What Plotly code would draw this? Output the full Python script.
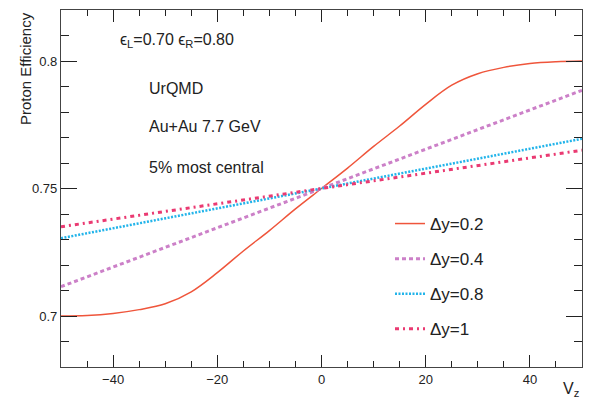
import plotly.graph_objects as go

vz = [-50, -45, -40, -35, -30, -25, -20, -15, -10, -5, 0, 5, 10, 15, 20, 25, 30, 35, 40, 45, 50]
eff_dy02 = [0.7000, 0.7002, 0.7010, 0.7025, 0.7048, 0.7095, 0.7170, 0.7255, 0.7335, 0.7420, 0.7500,
            0.7580, 0.7665, 0.7745, 0.7830, 0.7905, 0.7950, 0.7975, 0.7990, 0.7997, 0.8000]
vz_lin = [-50, -25, 0, 25, 50]
eff_dy04 = [0.7115, 0.7308, 0.7500, 0.7693, 0.7885]
eff_dy08 = [0.7305, 0.7403, 0.7500, 0.7598, 0.7695]
eff_dy1 = [0.7350, 0.7425, 0.7500, 0.7575, 0.7650]

labels = ["Δy=0.2", "Δy=0.4", "Δy=0.8", "Δy=1"]
FONT = "Liberation Sans, Arial, sans-serif"

fig = go.Figure()
fig.add_trace(go.Scatter(x=vz, y=eff_dy02, mode="lines", name=labels[0], legendgroup="a",
                         line=dict(color="#EF553B", width=1.5), line_shape="spline"))
fig.add_trace(go.Scatter(x=vz_lin, y=eff_dy04, mode="lines", name=labels[1], legendgroup="b",
                         line=dict(color="#cc80c8", width=3, dash="4px,3px")))
fig.add_trace(go.Scatter(x=vz_lin, y=eff_dy08, mode="lines", name=labels[2], legendgroup="c",
                         line=dict(color="#22b4ea", width=2.5, dash="2px,1.5px")))
fig.add_trace(go.Scatter(x=vz_lin, y=eff_dy1, mode="lines", name=labels[3], legendgroup="d",
                         line=dict(color="#ea3a72", width=3, dash="4px,4px,2px,4px")))

axis_common = dict(showgrid=False, zeroline=False, showline=True, linecolor="#444", linewidth=1.2,
                   ticks="inside", tickcolor="#222", tickwidth=1, mirror="allticks",
                   tickfont=dict(family=FONT, size=13, color="#222"))
fig.update_xaxes(range=[-50, 50], tick0=0, dtick=20, ticklen=12,
                 minor=dict(dtick=5, ticklen=6, ticks="inside", tickcolor="#222"), **axis_common)
fig.update_yaxes(range=[0.68, 0.82], tickvals=[0.7, 0.75, 0.8], ticktext=["0.7", "0.75", "0.8"],
                 ticklen=16, minor=dict(dtick=0.01, tick0=0.7, ticklen=8, ticks="inside", tickcolor="#222"),
                 **axis_common)

txt = dict(family=FONT, size=16, color="#222")
ann = [
    dict(x=118, y=40, text="ϵ<sub>L</sub>=0.70 ϵ<sub>R</sub>=0.80", xanchor="left"),
    dict(x=147, y=88, text="UrQMD", xanchor="left"),
    dict(x=147, y=127, text="Au+Au 7.7 GeV", xanchor="left"),
    dict(x=147, y=167, text="5% most central", xanchor="left"),
]
for a in ann:
    fig.add_annotation(x=(a["x"] - 61) / 521, y=1 - (a["y"] - 10) / 357, xref="paper", yref="paper",
                       text=a["text"], xanchor=a["xanchor"], yanchor="middle", showarrow=False, font=txt)

fig.add_annotation(x=-0.068, y=1.0, xref="paper", yref="paper", text="Proton Efficiency", textangle=-90,
                   xanchor="center", yanchor="top", showarrow=False, font=dict(family=FONT, size=15, color="#222"))
fig.add_annotation(x=1.0, y=-(401 - 367) / 357, xref="paper", yref="paper", text="V<sub>z</sub>",
                   xanchor="right", yanchor="bottom", showarrow=False, font=dict(family=FONT, size=16, color="#222"))

fig.update_layout(
    width=595, height=401, margin=dict(l=61, r=13, t=10, b=34),
    paper_bgcolor="white", plot_bgcolor="white",
    showlegend=True,
    legend=dict(x=(390 - 61) / 521, y=1 - (206 - 10) / 357, xanchor="left", yanchor="top",
                bgcolor="rgba(0,0,0,0)", tracegroupgap=10, itemwidth=30,
                font=dict(family=FONT, size=17, color="#222")),
)
fig.write_html("out.html")
